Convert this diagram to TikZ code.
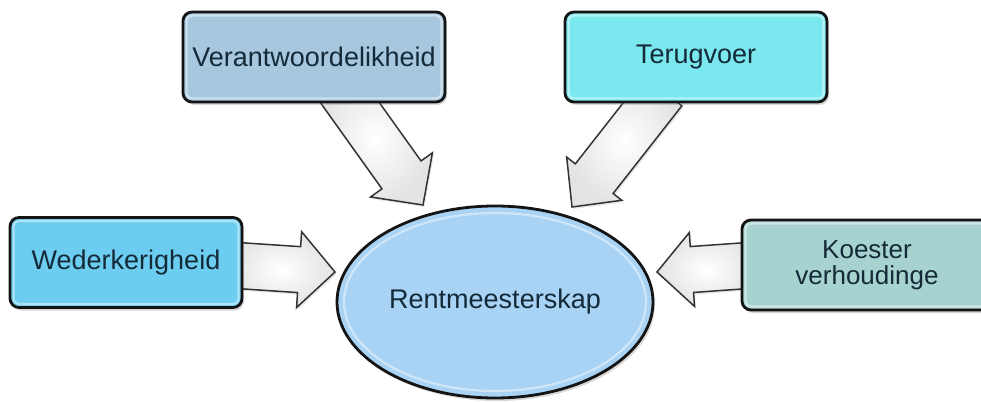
\documentclass[tikz,border=0pt]{standalone}
\usepackage{fontspec}
\setmainfont{Liberation Sans}
\usetikzlibrary{calc,shadows,shapes.geometric}

\definecolor{txt}{RGB}{20,42,56}
\definecolor{vcol}{RGB}{166,199,222}
\definecolor{tcol}{RGB}{122,232,238}
\definecolor{wcol}{RGB}{108,205,240}
\definecolor{kcol}{RGB}{166,211,207}
\definecolor{ecol}{RGB}{168,211,245}

% block arrow: #1 tail, #2 tip, #3 shaft half width, #4 head half width, #5 head length
\newcommand\blockarrow[5]{%
  \coordinate (hb) at ($(#2)!#5!(#1)$);
  \path[arrowbody] ($(#1)!#3!90:(#2)$) -- ($(hb)!#3!90:(#2)$) -- ($(hb)!#4!90:(#2)$)
    -- (#2) -- ($(hb)!#4!-90:(#2)$) -- ($(hb)!#3!-90:(#2)$) -- ($(#1)!#3!-90:(#2)$) -- cycle;
}

\begin{document}
\begin{tikzpicture}[x=1pt,y=-1pt,
  box/.style={rectangle, draw=black!92, line width=2.8pt, rounded corners=9pt,
    minimum height=90pt, text=txt, font=\fontsize{27}{29}\selectfont, align=center,
    drop shadow={opacity=0.3, shadow xshift=2pt, shadow yshift=-3pt}},
  bevel/.style={draw=white, line width=2.2pt, opacity=0.45, rounded corners=5pt},
  arrowbody/.style={draw=black!80, line width=1.5pt, line join=miter,
    shade, shading=radial, inner color=white, outer color=gray!22,
    drop shadow={opacity=0.2, shadow xshift=1.5pt, shadow yshift=-2pt}}]

\clip (0,0) rectangle (981,403);
\fill[white] (0,0) rectangle (981,403);

% arrow end points
\coordinate (vt) at (338,86);   \coordinate (vh) at (423,205);
\coordinate (tt) at (663,91);   \coordinate (th) at (572,207);
\coordinate (wt) at (230,265);  \coordinate (wh) at (335,272);
\coordinate (kt) at (755,265);  \coordinate (kh) at (657,272);

% arrows below the boxes
\blockarrow{vt}{vh}{24pt}{38pt}{37pt}
\blockarrow{tt}{th}{24pt}{35pt}{36pt}
\blockarrow{wt}{wh}{23pt}{38pt}{36pt}
\blockarrow{kt}{kh}{23pt}{37pt}{35pt}

% boxes
\node[box, fill=vcol, minimum width=262pt] (V) at (314,57) {Verantwoordelikheid};
\node[box, fill=tcol, minimum width=262pt] (T) at (696,57) {Terugvoer};
\node[box, fill=wcol, minimum width=232pt] (W) at (126,262.5) {Wederkerigheid};
\node[box, fill=kcol, minimum width=250pt, font=\fontsize{26}{26}\selectfont] (K) at (867,265) {Koester\\verhoudinge};

\foreach \n in {V,T,W,K}
  \draw[bevel] ([shift={(5,5)}]\n.north west) rectangle ([shift={(-5,-5)}]\n.south east);

% central ellipse
\node[ellipse, draw=black!92, line width=2.8pt, fill=ecol, minimum width=316pt,
  minimum height=192pt, text=txt, font=\fontsize{27}{29}\selectfont,
  drop shadow={opacity=0.3, shadow xshift=2pt, shadow yshift=-3pt}] (E) at (495,302) {Rentmeesterskap};
\draw[bevel] (E.center) ellipse [x radius=151, y radius=89];
\end{tikzpicture}
\end{document}
